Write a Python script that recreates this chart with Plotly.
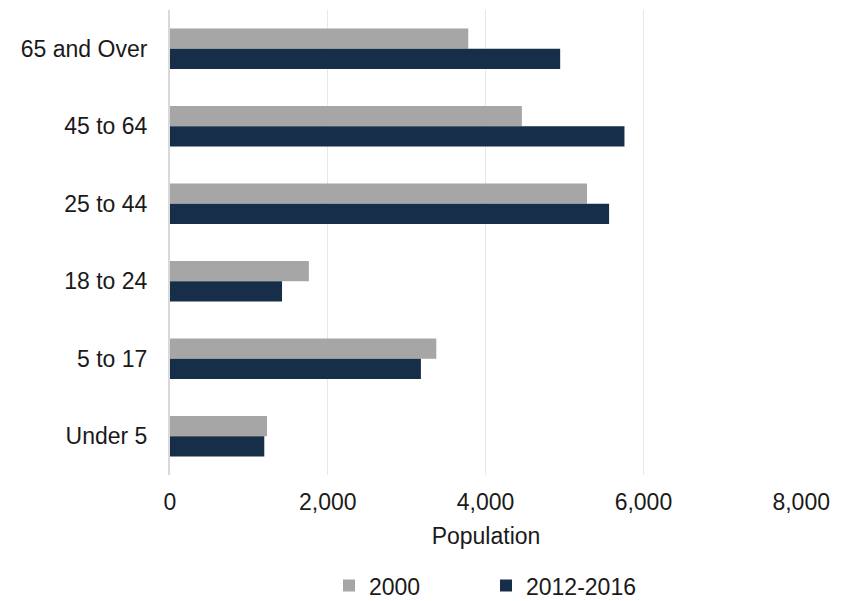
import plotly.graph_objects as go

# Age groups, listed top to bottom
age_groups = ["65 and Over", "45 to 64", "25 to 44", "18 to 24", "5 to 17", "Under 5"]
pop_2000 = [3780, 4460, 5285, 1760, 3375, 1230]
pop_2012_2016 = [4945, 5760, 5565, 1420, 3180, 1195]
x_ticks = [0, 2000, 4000, 6000, 8000]
x_tick_text = ["0", "2,000", "4,000", "6,000", "8,000"]

FONT = "Liberation Sans"
TEXT = "#1a1a1a"

fig = go.Figure()
fig.add_trace(go.Bar(
    y=age_groups, x=pop_2000, name="2000", orientation="h",
    marker=dict(color="#a6a6a6", line=dict(width=0)),
))
fig.add_trace(go.Bar(
    y=age_groups, x=pop_2012_2016, name="2012-2016", orientation="h",
    marker=dict(color="#162e48", line=dict(width=0)),
))

fig.update_layout(
    width=841, height=601,
    margin=dict(l=170, r=39, t=10, b=126, autoexpand=False),
    paper_bgcolor="white", plot_bgcolor="white",
    barmode="group", bargap=0.48, bargroupgap=0,
    font=dict(family=FONT, size=23, color=TEXT),
    legend=dict(
        orientation="h", x=0.5, xanchor="center", y=-0.238, yanchor="middle",
        font=dict(family=FONT, size=23, color=TEXT),
        itemwidth=30, entrywidth=112, tracegroupgap=0,
    ),
    showlegend=True,
)
fig.update_xaxes(
    range=[0, 8010], tickvals=x_ticks, ticktext=x_tick_text,
    showgrid=True, gridcolor="#e8e8e8", gridwidth=1,
    zeroline=False, showline=False,
    tickfont=dict(family=FONT, size=23, color=TEXT),
    ticklabelstandoff=11,
    title=dict(text="Population", standoff=13, font=dict(family=FONT, size=23, color=TEXT)),
)
fig.update_yaxes(
    autorange="reversed", showgrid=False, zeroline=False,
    showline=True, linecolor="#d9d9d9", linewidth=2,
    tickfont=dict(family=FONT, size=23, color=TEXT),
    ticklabelstandoff=16,
)

fig.write_html("out.html")
